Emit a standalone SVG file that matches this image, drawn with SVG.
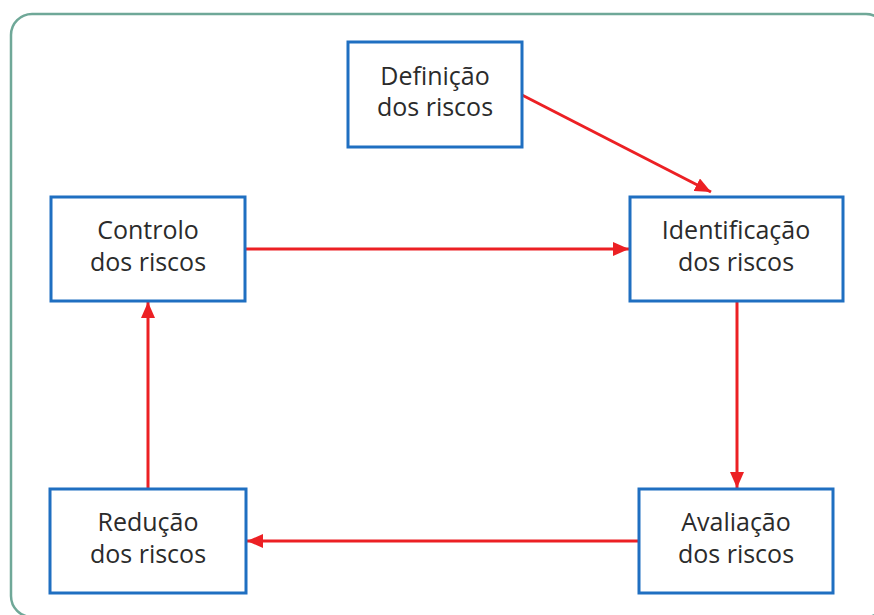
<svg xmlns="http://www.w3.org/2000/svg" width="874" height="615" viewBox="0 0 874 615">
<style>
.box{fill:#fff;stroke:#1f6fc1;stroke-width:3}
.lbl{font-family:"Open Sans","Noto Sans",sans-serif;font-size:25px;fill:#2b2b2b;text-anchor:middle}
.con{stroke:#ec2024;stroke-width:3;fill:none}
</style>
<defs>
<marker id="ah" viewBox="0 0 16 14" refX="16" refY="7" markerWidth="16" markerHeight="14" markerUnits="userSpaceOnUse" orient="auto">
<path d="M0,0 L16,7 L0,14 z" fill="#ec2024"/>
</marker>
</defs>
<rect width="874" height="615" fill="#fff"/>
<rect x="11" y="14" width="876" height="603" rx="21" fill="none" stroke="#6fa898" stroke-width="2.5"/>
<g id="connectors">
<line class="con" x1="522" y1="95" x2="711" y2="192" marker-end="url(#ah)"/>
<line class="con" x1="245" y1="249" x2="629" y2="249" marker-end="url(#ah)"/>
<line class="con" x1="737" y1="301" x2="737" y2="488" marker-end="url(#ah)"/>
<line class="con" x1="639" y1="541" x2="247" y2="541" marker-end="url(#ah)"/>
<line class="con" x1="148" y1="489" x2="148" y2="302" marker-end="url(#ah)"/>
</g>
<g id="definicao">
<rect class="box" x="348" y="42" width="174" height="105"/>
<text class="lbl" x="435" y="85">Definição</text>
<text class="lbl" x="435" y="116">dos riscos</text>
</g>
<g id="identificacao">
<rect class="box" x="630" y="197" width="213" height="104"/>
<text class="lbl" x="736" y="239">Identificação</text>
<text class="lbl" x="736" y="271">dos riscos</text>
</g>
<g id="controlo">
<rect class="box" x="51" y="197" width="194" height="104"/>
<text class="lbl" x="148" y="239">Controlo</text>
<text class="lbl" x="148" y="271">dos riscos</text>
</g>
<g id="reducao">
<rect class="box" x="50" y="489" width="196" height="104"/>
<text class="lbl" x="148" y="531">Redução</text>
<text class="lbl" x="148" y="563">dos riscos</text>
</g>
<g id="avaliacao">
<rect class="box" x="639" y="489" width="194" height="104"/>
<text class="lbl" x="736" y="531">Avaliação</text>
<text class="lbl" x="736" y="563">dos riscos</text>
</g>
</svg>
